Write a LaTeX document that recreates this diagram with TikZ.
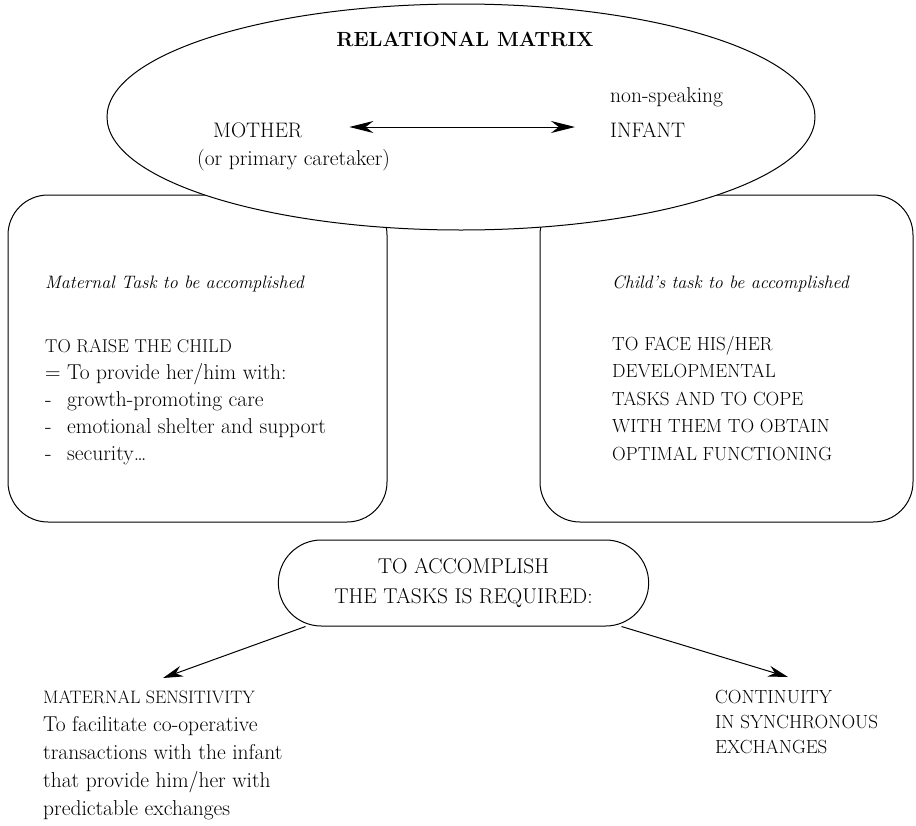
\documentclass[tikz,border=0pt]{standalone}
\usepackage{fontspec}
\usetikzlibrary{shapes.geometric,shapes.misc,arrows.meta}

\tikzset{
  txt/.style={anchor=base west, inner sep=0pt, align=left},
  taskbox/.style={draw, line width=1pt, rounded corners=40pt, inner sep=0pt},
  relarrow/.style={line width=1pt, {Stealth[length=24pt,width=12pt]}-{Stealth[length=24pt,width=12pt]}},
  reqarrow/.style={line width=1pt, -{Stealth[length=20pt,width=11pt]}},
}
\newcommand{\bigtxt}{\fontsize{21.5}{27}\selectfont}
\newcommand{\captxt}{\fontsize{19}{27.5}\selectfont}
\newcommand{\itltxt}{\fontsize{18}{27}\selectfont\itshape}

\begin{document}
\begin{tikzpicture}[x=1pt,y=-1pt]
    \useasboundingbox (0,0) rectangle (916,825);
    % task boxes, behind the ellipse
    \node[taskbox, minimum width=379pt, minimum height=327pt] (mbox) at (197.5,358.5) {};
    \node[taskbox, minimum width=373pt, minimum height=327pt] (cbox) at (726.5,358.5) {};
    % relational matrix
    \node[ellipse, draw, fill=white, line width=1pt, minimum width=708pt, minimum height=226pt, inner sep=0pt] (relmat) at (461,117) {};
    \node[anchor=base, inner sep=0pt, font=\fontsize{20.5}{22}\selectfont\bfseries] (title) at (465,46) {RELATIONAL MATRIX};
    \node[txt, font=\fontsize{21}{27}\selectfont] (mother) at (213,137) {MOTHER};
    \node[txt, font=\bigtxt] (caretaker) at (197,165) {(or primary caretaker)};
    \node[txt, font=\bigtxt] (nonspeak) at (610,102) {non-speaking};
    \node[txt, font=\fontsize{21}{27}\selectfont] (infant) at (610,137) {INFANT};
    \draw[relarrow] ([xshift=47pt,yshift=10pt]mother.base east) -- ([xshift=-35pt,yshift=10pt]infant.base west);
    % maternal task
    \node[txt, font=\itltxt] (mhead) at (45,288) {Maternal Task to be accomplished};
    \node[txt, font=\bigtxt] (mlist) at (45,460) {{\fontsize{18.5}{27}\selectfont TO RAISE THE CHILD}\\
        = To provide her/him with:\\
        \makebox[22pt][l]{-}growth-promoting care\\
        \makebox[22pt][l]{-}emotional shelter and support\\
        \makebox[22pt][l]{-}security\dots};
    % child's task
    \node[txt, font=\itltxt] (chead) at (612,288) {Child's task to be accomplished};
    \node[txt, font=\captxt] (clist) at (612,460) {TO FACE HIS/HER\\DEVELOPMENTAL\\TASKS AND TO COPE\\WITH THEM TO OBTAIN\\OPTIMAL FUNCTIONING};
    % requirements
    \node[rounded rectangle, draw, line width=1pt, minimum width=377pt, minimum height=86pt, align=center, font=\fontsize{21.4}{30}\selectfont] (req) at (463.5,583) {TO ACCOMPLISH\\THE TASKS IS REQUIRED:};
    \node[txt, font=\fontsize{21.5}{28}\selectfont] (sens) at (43,815) {{\fontsize{18}{28}\selectfont MATERNAL SENSITIVITY}\\
        To facilitate co-operative\\
        transactions with the infant\\
        that provide him/her with\\
        predictable exchanges};
    \node[txt, font=\fontsize{19}{25}\selectfont] (cont) at (715,753) {CONTINUITY\\IN SYNCHRONOUS\\EXCHANGES};
    \coordinate (senstip) at (163,678);
    \coordinate (conttip) at (788,677);
    \draw[reqarrow] ([xshift=-158pt]req.south) -- (senstip);
    \draw[reqarrow] ([xshift=158pt]req.south) -- (conttip);
\end{tikzpicture}
\end{document}
